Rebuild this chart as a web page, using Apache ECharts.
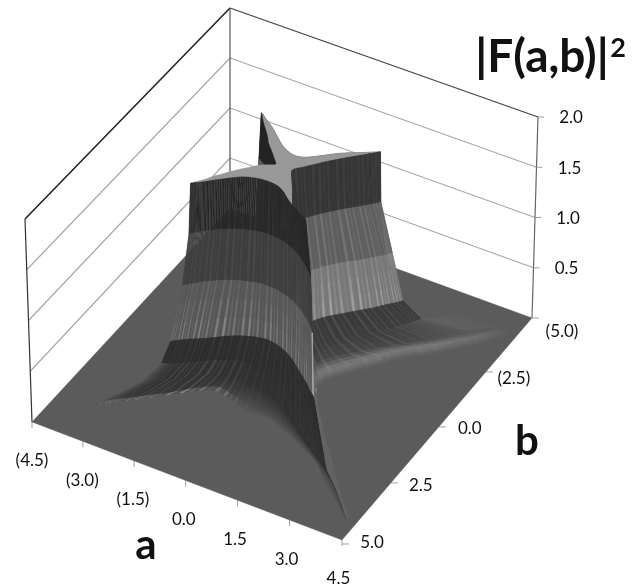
<!DOCTYPE html>
<html><head><meta charset="utf-8">
<style>html,body{margin:0;padding:0;background:#fff}#c{width:640px;height:587px}</style>
<script src="https://cdn.jsdelivr.net/npm/echarts@6/dist/echarts.min.js"></script>
</head><body><div id="c"></div>
<script>
// ---- values ----
var aTicks = [-4.5, -3, -1.5, 0, 1.5, 3, 4.5];
var aTickLabels = ['(4.5)', '(3.0)', '(1.5)', '0.0', '1.5', '3.0', '4.5'];
var bTicks = [5, 2.5, 0, -2.5, -5];
var bTickLabels = ['5.0', '2.5', '0.0', '(2.5)', '(5.0)'];
var zTicks = [0.5, 1, 1.5, 2];
var zTickLabels = ['0.5', '1.0', '1.5', '2.0'];
// height of each contour of the surface, top to foot
var contourHeights = [2.0, 1.5, 1.0, 0.5, 0.3, 0.18, 0.1, 0.05, 0.02];
// along-wall position, as a share of the contour's tip position
var contourShares = [0, .15, .3, .45, .6, .72, .82, .9, .96, 1];

// edge of the flat top, one [along, across] pair per rib, for each of the four walls
var topEdgeFrontLeft = [[-1.7,1.73],[-1.63,1.66],[-1.53,1.58],[-1.39,1.45],[-1.22,1.28],[-1.02,1.10],[-.76,.88],[-.51,.76],[-.26,.70],[0,.69],[.23,.73],[.45,.85],[.68,1.04],[.9,1.2],[1.08,1.31],[1.23,1.4],[1.35,1.47],[1.44,1.52],[1.5,1.56]];
var topEdgeFrontRight = [[-1.56,1.5],[-1.5,1.45],[-1.4,1.36],[-1.26,1.23],[-1.1,1.1],[-.93,.97],[-.7,.78],[-.47,.59],[-.23,.39],[0,.22],[.26,.4],[.53,.62],[.8,.84],[1.05,1.07],[1.27,1.28],[1.44,1.45],[1.58,1.58],[1.7,1.7],[1.76,1.76]];
var topEdgeBackRight = [[-1.62,1.64],[-1.55,1.6],[-1.45,1.52],[-1.3,1.41],[-1.1,1.27],[-.9,1.1],[-.65,.88],[-.42,.7],[-.2,.59],[0,.55],[.2,.6],[.4,.74],[.6,.92],[.82,1.12],[1.03,1.28],[1.25,1.42],[1.45,1.55],[1.62,1.67],[1.76,1.76]];
var topEdgeBackLeft = [[-1.62,1.6],[-1.55,1.53],[-1.45,1.46],[-1.3,1.34],[-1.1,1.17],[-.9,1.0],[-.65,.82],[-.42,.6],[-.2,.4],[0,.25],[.15,.48],[.3,.65],[.5,.82],[.75,1.03],[.97,1.19],[1.2,1.35],[1.4,1.47],[1.58,1.6],[1.7,1.7]];

// front-left wall, half towards a>0: tip position and distance from the centre at each share
var leftTips = [1.75, 1.88, 2.15, 2.4, 3.2, 3.6, 4.0, 4.3];
var left150 = [.77, .79, .86, .97, 1.12, 1.28, 1.43, 1.56, 1.67, 1.75];
var left100 = [.82, .84, .92, 1.03, 1.20, 1.37, 1.53, 1.68, 1.80, 1.88];
var left050 = [.93, .98, 1.1, 1.3, 1.56, 1.77, 1.95, 2.12, 2.22, 2.3];
var left030 = [1.2, 1.24, 1.35, 1.52, 1.75, 1.95, 2.12, 2.28, 2.4, 2.5];
var left018 = [1.5, 1.62, 1.9, 2.22, 2.58, 2.85, 3.07, 3.28, 3.4, 3.5];
var left010 = [1.65, 1.75, 1.98, 2.3, 2.66, 2.95, 3.2, 3.45, 3.62, 3.75];
var left005 = [1.78, 1.87, 2.08, 2.4, 2.76, 3.1, 3.4, 3.72, 3.95, 4.1];
var left002 = [1.93, 1.93, 2.17, 2.5, 2.85, 3.36, 3.7, 4.0, 4.25, 4.42];
// front-left wall, half towards a<0
var tailTips = [1.75, 1.88, 2.05, 2.22, 2.55, 3.0, 3.3, 3.6];
var tail050 = [.93, 1.0, 1.13, 1.32, 1.58, 1.76, 1.9, 2.03, 2.14, 2.22];
var tail030 = [1.2, 1.25, 1.35, 1.55, 1.78, 2.0, 2.15, 2.26, 2.35, 2.4];
var tail018 = [1.5, 1.5, 1.55, 1.68, 2.0, 2.3, 2.5, 2.68, 2.8, 2.88];
var tail010 = [1.65, 1.6, 1.6, 1.8, 2.26, 2.62, 2.92, 3.12, 3.25, 3.35];
var tail005 = [1.78, 1.72, 1.62, 1.95, 2.45, 2.8, 3.1, 3.32, 3.5, 3.58];
var tail002 = [1.93, 1.8, 1.68, 2.05, 2.55, 2.95, 3.25, 3.5, 3.72, 3.85];
// front-right wall, far half
var rightTips = [1.78, 1.92, 2.15, 2.45, 3.0, 4.0, 4.05, 4.1];
var right150 = [.35, .47, .66, .88, 1.12, 1.33, 1.5, 1.63, 1.73, 1.78];
var right100 = [.55, .64, .83, 1.07, 1.37, 1.6, 1.78, 1.92, 2.0, 2.05];
var right050 = [.6, .68, .9, 1.2, 1.5, 1.75, 1.92, 2.07, 2.18, 2.25];
var right030 = [.8, .95, 1.2, 1.55, 1.9, 2.15, 2.32, 2.47, 2.56, 2.62];
var right018 = [.95, 1.2, 1.6, 2.0, 2.48, 2.85, 3.1, 3.32, 3.45, 3.55];
var right010 = [1.05, 1.45, 1.88, 2.34, 2.98, 3.42, 3.8, 4.05, 4.25, 4.35];
var right005 = [1.08, 1.48, 1.92, 2.38, 3.02, 3.46, 3.84, 4.09, 4.29, 4.39];
var right002 = [1.12, 1.53, 1.97, 2.44, 3.08, 3.52, 3.9, 4.15, 4.35, 4.45];

var leftContours = [left150, left100, left050, left030, left018, left010, left005, left002];
var tailContours = [left150, left100, tail050, tail030, tail018, tail010, tail005, tail002];
var rightContours = [right150, right100, right050, right030, right018, right010, right005, right002];

// ---- view ----
var A = [-4.5, 4.5], B = [-5, 5];
var corners = {back: [230, 208], right: [532, 318], front: [342, 540], left: [32, 422]};
var lift = {back: [0, -100], right: [3, -100.5], front: [0.5, -102], left: [-3.5, -101.5]};

function homography() {
  var p0 = corners.back, p1 = corners.right, p2 = corners.front, p3 = corners.left;
  var dx1 = p1[0] - p2[0], dx2 = p3[0] - p2[0], sx = p0[0] - p1[0] + p2[0] - p3[0];
  var dy1 = p1[1] - p2[1], dy2 = p3[1] - p2[1], sy = p0[1] - p1[1] + p2[1] - p3[1];
  var det = dx1 * dy2 - dx2 * dy1;
  var g = (sx * dy2 - dx2 * sy) / det, h = (dx1 * sy - sx * dy1) / det;
  return [p1[0] - p0[0] + g * p1[0], p3[0] - p0[0] + h * p3[0], p0[0],
          p1[1] - p0[1] + g * p1[1], p3[1] - p0[1] + h * p3[1], p0[1], g, h];
}
var H = homography();
function project(a, b, z) {
  a = Math.max(A[0], Math.min(A[1], a));
  b = Math.max(B[0], Math.min(B[1], b));
  var u = (a - A[0]) / (A[1] - A[0]);   // back->right
  var v = (b - B[0]) / (B[1] - B[0]);   // back->left
  var w = H[6] * u + H[7] * v + 1;
  var x = (H[0] * u + H[1] * v + H[2]) / w;
  var y = (H[3] * u + H[4] * v + H[5]) / w;
  var k = ['back', 'right', 'front', 'left'], q = [(1 - u) * (1 - v), u * (1 - v), u * v, (1 - u) * v];
  var lx = 0, ly = 0;
  for (var i = 0; i < 4; i++) { lx += q[i] * lift[k[i]][0]; ly += q[i] * lift[k[i]][1]; }
  return [x + lx * z, y + ly * z];
}

// ---- build walls ----
function leftRing(i) {
  var pts = [], s = contourShares, k;
  for (k = s.length - 1; k > 0; k--) pts.push([-s[k] * tailTips[i], tailContours[i][k]]);
  for (k = 0; k < s.length; k++) pts.push([s[k] * leftTips[i], leftContours[i][k]]);
  return pts;
}
function rightRing(i) {
  var pts = [], tS = leftTips[i], cS = leftContours[i], t = rightTips[i], c = rightContours[i], s = contourShares, k;
  for (k = s.length - 1; k > 0; k--) {
    pts.push([-s[k] * tS, c[0] + (cS[k] - cS[0]) * (tS - c[0]) / (cS[9] - cS[0])]);
  }
  for (k = 0; k < s.length; k++) pts.push([s[k] * t, c[k]]);
  return pts;
}
function smoothContour(pts, m) {
  var out = [];
  for (var i = 0; i < pts.length - 1; i++) {
    var p0 = pts[Math.max(i - 1, 0)], p1 = pts[i], p2 = pts[i + 1], p3 = pts[Math.min(i + 2, pts.length - 1)];
    for (var j = 0; j < m; j++) {
      var t = j / m, t2 = t * t, t3 = t2 * t;
      out.push([0, 1].map(function (d) {
        return 0.5 * (2 * p1[d] + (p2[d] - p0[d]) * t + (2 * p0[d] - 5 * p1[d] + 4 * p2[d] - p3[d]) * t2 + (3 * p1[d] - p0[d] - 3 * p2[d] + p3[d]) * t3);
      }));
    }
  }
  out.push(pts[pts.length - 1]);
  return out;
}
var RIB = 6;
function ringsFor(top, ringFn) {
  var list = [smoothContour(top, RIB)];
  leftContours.forEach(function (_, i) { list.push(smoothContour(ringFn(i), RIB)); });
  return list;
}
var walls = {
  left:  {rings: ringsFor(topEdgeFrontLeft, leftRing),  map: function (p, q) { return [p, q]; }},
  right: {rings: ringsFor(topEdgeFrontRight, rightRing), map: function (p, q) { return [q, -p]; }},
  backA: {rings: ringsFor(topEdgeBackLeft, rightRing),  map: function (p, q) { return [-q, p]; }},
  backB: {rings: ringsFor(topEdgeBackRight, leftRing),  map: function (p, q) { return [p, -q]; }}
};
function hex(c) { return [parseInt(c.substr(1, 2), 16), parseInt(c.substr(3, 2), 16), parseInt(c.substr(5, 2), 16)]; }
function mix(c1, c2, t) {
  var a = hex(c1), b = hex(c2), o = [0, 1, 2].map(function (i) { return Math.round(a[i] + (b[i] - a[i]) * t); });
  return '#' + o.map(function (v) { return (v < 16 ? '0' : '') + v.toString(16); }).join('');
}
var FLOOR = '#5b5b5b';
var stripePattern = [0, 1, 0, .4, 0, .7, 0, .2, 0, .9, .1];
function flat(c) { return [[c, c], [c, c]]; }
// [plain, streak] at the top and bottom contour of each band
var wallStyle = {
  left:  [[['#272727', '#303030'], ['#272727', '#303030']], [['#3d3d3d', '#484848'], ['#3d3d3d', '#484848']], [['#565656', '#606060'], ['#565656', '#8a8a8a']],
          [['#2c2c2c', '#363636'], ['#2c2c2c', '#343434']], [['#2c2c2c', '#343434'], ['#2f2f2f', '#353535']], [['#2f2f2f', '#353535'], ['#3d3d3d', '#404040']], [['#3d3d3d', '#404040'], ['#4a4a4a', '#4b4b4b']], [['#4a4a4a', '#4b4b4b'], ['#565656', '#575757']]],
  right: [[['#343434', '#3e3e3e'], ['#343434', '#3e3e3e']], [['#5e5e5e', '#747474'], ['#5e5e5e', '#747474']], [['#787878', '#868686'], ['#787878', '#a6a6a6']],
          [['#383838', '#4c4c4c'], ['#3a3a3a', '#4c4c4c']], [['#3a3a3a', '#4c4c4c'], ['#464646', '#565656']], [['#464646', '#565656'], ['#7a7a7a', '#828282']], [['#7a7a7a', '#828282'], ['#6c6c6c', '#707070']], [['#6c6c6c', '#707070'], ['#5e5e5e', '#5e5e5e']]],
  backA: [flat('#232323'), flat(FLOOR), flat(FLOOR), flat(FLOOR), flat(FLOOR), flat(FLOOR), flat(FLOOR), flat(FLOOR)],
  backB: [flat('#5a5a5a'), flat('#5a5a5a'), flat('#5a5a5a'), [['#5a5a5a', '#5a5a5a'], ['#5c5c5c', '#5c5c5c']], [['#5c5c5c', '#5c5c5c'], ['#5e5e5e', '#5e5e5e']], [['#5e5e5e', '#5e5e5e'], ['#646464', '#646464']], [['#646464', '#646464'], ['#5e5e5e', '#5e5e5e']], [['#5e5e5e', '#5e5e5e'], ['#5b5b5b', '#5b5b5b']]]
};

function poly(api, pts, fill) {
  return {type: 'polygon', silent: true, shape: {points: pts.map(function (p) { return api.coord(p); })},
    style: {fill: fill, stroke: fill, lineWidth: 0.4}};
}
function wallChildren(api, name) {
  var W = walls[name], rings = W.rings, map = W.map, kids = [], n = rings[0].length, mid = (n - 1) / 2;
  function pt(e, z) { var ab = map(e[0], e[1]); return project(ab[0], ab[1], z); }
  function lerp(p, q, f) { return [p[0] + (q[0] - p[0]) * f, p[1] + (q[1] - p[1]) * f]; }
  for (var b = 0; b < rings.length - 1; b++) {
    var st = wallStyle[name][b], steps = b < 2 ? 1 : (name.charAt(0) === 'b' ? 1 : 3);
    var r0 = rings[b], r1 = rings[b + 1], z0 = contourHeights[b], z1 = contourHeights[b + 1];
    for (var i = 0; i < n - 1; i++) {
      if (name === 'backA' && i > mid) continue;   // faces away, hidden by the front-left wall
      var sp = stripePattern[i % stripePattern.length];
      for (var j = 0; j < steps; j++) {
        var f0 = j / steps, f1 = (j + 1) / steps, fm = (j + .5) / steps;
        var col = mix(mix(st[0][0], st[1][0], fm), mix(st[0][1], st[1][1], fm), sp);
        if (name === 'left' && i >= n - 4 && b === 2) col = '#a8a8a8';
        if (name === 'left' && b >= 4) {
          // the a<0 half stays dark down to a sharp foot with a bright rim
          var far = Math.max(0, Math.min(1, (9 * RIB - i) / (3 * RIB)));
          if (b <= 6) col = mix(col, mix('#303030', '#4c4c4c', sp), far * .8);
          else col = mix(col, mix('#505050', '#8a8a8a', sp), far);
          if (i < 2 * RIB) col = mix(col, FLOOR, (2 * RIB - i) / (2 * RIB));
        }
        if (name === 'right' && b >= 3 && i < mid) col = mix(col, '#646464', Math.min(1, (mid - i) / RIB));
        if (name === 'right' && b >= 4 && i > n - 5 * RIB) col = mix(col, FLOOR, (i - (n - 5 * RIB)) / (5 * RIB));
        var q = [pt(lerp(r0[i], r1[i], f0), z0 + (z1 - z0) * f0), pt(lerp(r0[i + 1], r1[i + 1], f0), z0 + (z1 - z0) * f0),
                 pt(lerp(r0[i + 1], r1[i + 1], f1), z0 + (z1 - z0) * f1), pt(lerp(r0[i], r1[i], f1), z0 + (z1 - z0) * f1)];
        kids.push(poly(api, q, col));
      }
    }
  }
  return kids;
}
function floorChild(api) {
  return poly(api, [project(A[0], B[0], 0), project(A[1], B[0], 0), project(A[1], B[1], 0), project(A[0], B[1], 0)], FLOOR);
}
function plateauChild(api) {
  var pts = [], z = contourHeights[0], i;
  function add(W, e) { var ab = W.map(e[0], e[1]); pts.push(project(ab[0], ab[1], z)); }
  var L = walls.left, R = walls.right, BB = walls.backB, BA = walls.backA;
  for (i = 0; i < L.rings[0].length; i++) add(L, L.rings[0][i]);
  for (i = 0; i < R.rings[0].length; i++) add(R, R.rings[0][i]);
  for (i = BB.rings[0].length - 1; i >= 0; i--) add(BB, BB.rings[0][i]);
  for (i = 0; i < BA.rings[0].length; i++) add(BA, BA.rings[0][i]);
  return poly(api, pts, '#989898');
}
var surfaceParts = ['floor', 'backB', 'backA', 'plateau', 'right', 'left'];
function renderSurface(params, api) {
  var part = surfaceParts[api.value(0)];
  if (part === 'floor') return floorChild(api);
  if (part === 'plateau') return plateauChild(api);
  return {type: 'group', children: wallChildren(api, part)};
}

// ---- frame ----
function seg(api, p, q, color, w) {
  var c1 = api.coord(p), c2 = api.coord(q);
  return {type: 'line', silent: true, shape: {x1: c1[0], y1: c1[1], x2: c2[0], y2: c2[1]}, style: {stroke: color, lineWidth: w}};
}
function renderFrame(params, api) {
  var kids = [], pa = A[0], pb = B[0];
  zTicks.forEach(function (z) {
    var top = z === 2, col = top ? '#444444' : '#a8a8a8', w = top ? 1.3 : 1.2;
    kids.push(seg(api, project(A[0], B[1], z), project(pa, pb, z), top ? '#222222' : col, top ? 1.6 : w));
    kids.push(seg(api, project(pa, pb, z), project(A[1], B[0], z), col, w));
  });
  kids.push(seg(api, project(A[0], B[1], 0), project(A[0], B[1], 2), '#333333', 1.2));
  kids.push(seg(api, project(pa, pb, 0), project(pa, pb, 2), '#555555', 1.2));
  kids.push(seg(api, project(A[1], B[0], 0), project(A[1], B[0], 2), '#666666', 1.2));
  var gray = '#a0a0a0';
  aTicks.forEach(function (a) {
    var p = project(a, B[1], 0);
    kids.push(seg(api, [p[0], p[1]], [p[0], p[1] + 6], gray, 1));
  });
  bTicks.forEach(function (b) {
    var p = project(A[1], b, 0);
    kids.push(seg(api, [p[0], p[1] + (b === 5 ? 4 : 0)], [p[0] + 7, p[1] + (b === 5 ? 4 : 0)], gray, 1));
  });
  zTicks.forEach(function (z) {
    var p = project(A[1], B[0], z);
    kids.push(seg(api, p, [p[0] + 6, p[1]], gray, 1));
  });
  return {type: 'group', children: kids};
}

// ---- text ----
function label(api, p, text, size, weight) {
  var c = api.coord(p);
  return {type: 'text', silent: true, x: c[0], y: c[1], style: {text: text, fill: '#111111', align: 'center', verticalAlign: 'middle',
    textAlign: 'center', textVerticalAlign: 'middle', fontFamily: 'Lato', fontSize: size, fontWeight: weight || 'normal'}};
}
var bLabelShift = [[30, 3], [30, 3], [31, 2], [28, 7], [30, 14]];
function renderText(params, api) {
  var kids = [];
  aTicks.forEach(function (a, i) {
    var p = project(a, B[1], 0);
    kids.push(label(api, [p[0] - 0.6 * i, p[1] + 39], aTickLabels[i], 17));
  });
  bTicks.forEach(function (b, i) {
    var p = project(A[1], b, 0);
    kids.push(label(api, [p[0] + bLabelShift[i][0], p[1] + bLabelShift[i][1]], bTickLabels[i], 17));
  });
  zTicks.forEach(function (z, i) {
    var p = project(A[1], B[0], z);
    kids.push(label(api, [p[0] + 33, p[1] + 1], zTickLabels[i], 17));
  });
  kids.push(label(api, [542, 57], '|F(a,b)|', 46, 'bold'));
  kids.push(label(api, [618, 48], '2', 27, 'bold'));
  kids.push(label(api, [146, 545], 'a', 42, 'bold'));
  kids.push(label(api, [527, 441], 'b', 42, 'bold'));
  return {type: 'group', children: kids};
}

var chart = echarts.init(document.getElementById('c'), null, {renderer: 'canvas'});
chart.setOption({
  backgroundColor: '#ffffff',
  animation: false,
  grid: {left: 0, right: 0, top: 0, bottom: 0},
  xAxis: {type: 'value', min: 0, max: 640, show: false},
  yAxis: {type: 'value', min: 0, max: 587, inverse: true, show: false},
  series: [
    {type: 'custom', coordinateSystem: 'cartesian2d', clip: false, data: [[0, 0]], encode: {x: 0, y: 1}, renderItem: renderFrame, silent: true},
    {type: 'custom', coordinateSystem: 'cartesian2d', clip: false, data: surfaceParts.map(function (_, i) { return [i, 0]; }), encode: {x: 0, y: 1}, renderItem: renderSurface, silent: true},
    {type: 'custom', coordinateSystem: 'cartesian2d', clip: false, data: [[0, 0]], encode: {x: 0, y: 1}, renderItem: renderText, silent: true}
  ]
});
</script></body></html>
